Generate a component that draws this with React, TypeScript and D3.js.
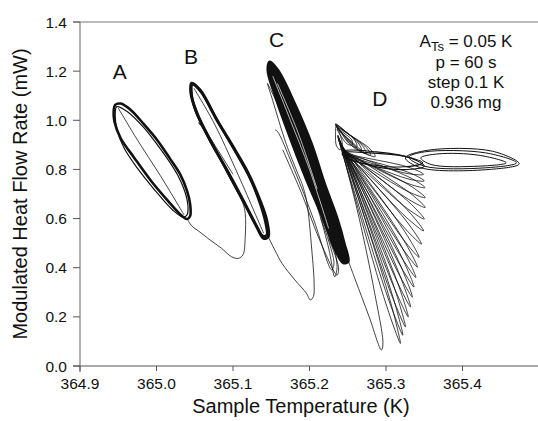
import React from "react";
import * as d3 from "d3";

type P = [number, number];

const W = 538;
const H = 421;

const xTicks = [364.9, 365.0, 365.1, 365.2, 365.3, 365.4];
const yTicks = [0, 0.2, 0.4, 0.6, 0.8, 1.0, 1.2, 1.4];

const notes = ["= 0.05 K", "p = 60 s", "step 0.1 K", "0.936 mg"];

const stepLabels: { name: string; t: number; hf: number }[] = [
  { name: "A", t: 364.952, hf: 1.166 },
  { name: "B", t: 365.045, hf: 1.229 },
  { name: "C", t: 365.157, hf: 1.298 },
  { name: "D", t: 365.292, hf: 1.058 },
];

// step A
const loopA1: P[] = [
  [364.946, 1.063], [364.953, 1.068], [364.966, 1.043], [364.984, 0.982], [365.002, 0.915],
  [365.017, 0.847], [365.031, 0.78], [365.04, 0.712], [365.044, 0.658], [365.044, 0.611],
  [365.04, 0.598], [365.033, 0.611], [365.015, 0.672], [364.993, 0.753], [364.971, 0.847],
  [364.953, 0.928], [364.945, 0.995], [364.944, 1.036],
];
const loopA2: P[] = [
  [364.948, 1.055], [364.962, 1.035], [364.982, 0.975], [365.0, 0.905], [365.015, 0.84],
  [365.028, 0.775], [365.037, 0.71], [365.041, 0.655], [365.04, 0.615], [365.035, 0.606],
  [365.022, 0.632], [364.998, 0.715], [364.975, 0.805], [364.958, 0.885], [364.949, 0.955],
  [364.946, 1.02],
];
const innerA: P[] = [[364.95, 1.05], [364.975, 0.92], [365.005, 0.775], [365.036, 0.615]];

const tailAB: P[] = [
  [365.04, 0.6], [365.046, 0.57], [365.053, 0.554], [365.07, 0.513], [365.085, 0.479],
  [365.098, 0.445], [365.107, 0.438], [365.113, 0.452], [365.116, 0.526], [365.116, 0.621],
  [365.113, 0.662], [365.1, 0.74], [365.078, 0.87], [365.06, 0.97], [365.055, 0.99],
  [365.06, 0.975], [365.08, 0.88], [365.1, 0.78],
];

// step B
const loopB1: P[] = [
  [365.046, 1.151], [365.057, 1.123], [365.079, 1.001], [365.1, 0.893], [365.12, 0.784],
  [365.135, 0.676], [365.144, 0.594], [365.146, 0.526], [365.14, 0.52], [365.131, 0.567],
  [365.113, 0.676], [365.092, 0.798], [365.07, 0.92], [365.053, 1.028], [365.045, 1.11],
];
const loopB2: P[] = [
  [365.047, 1.145], [365.059, 1.112], [365.081, 0.99], [365.102, 0.878], [365.122, 0.765],
  [365.136, 0.655], [365.143, 0.575], [365.144, 0.533], [365.139, 0.53], [365.129, 0.58],
  [365.11, 0.69], [365.089, 0.812], [365.067, 0.935], [365.051, 1.04], [365.046, 1.105],
];
const innerB: P[] = [[365.049, 1.13], [365.075, 0.99], [365.105, 0.79], [365.14, 0.54]];

const tailBC: P[] = [
  [365.146, 0.526], [365.155, 0.47], [365.164, 0.418], [365.181, 0.35], [365.196, 0.296],
  [365.201, 0.269], [365.205, 0.282], [365.206, 0.337], [365.203, 0.472], [365.196, 0.676],
  [365.19, 0.744],
];

// step C
const loopC: P[] = [
  [365.148, 1.239], [365.159, 1.205], [365.181, 1.069], [365.203, 0.906], [365.22, 0.744],
  [365.236, 0.608], [365.246, 0.499], [365.251, 0.424], [365.244, 0.418], [365.233, 0.472],
  [365.216, 0.608], [365.194, 0.77], [365.172, 0.947], [365.155, 1.096], [365.145, 1.205],
];
const streaksC: P[][] = [
  [[365.152, 1.18], [365.175, 1.0], [365.2, 0.8], [365.225, 0.56]],
  [[365.158, 1.15], [365.185, 0.95], [365.21, 0.72]],
];
const spikesC: P[][] = [
  [[365.19, 0.744], [365.17, 0.9], [365.15, 1.1], [365.145, 1.15], [365.15, 1.12], [365.175, 0.95],
    [365.205, 0.7], [365.225, 0.48], [365.233, 0.363], [365.236, 0.4], [365.23, 0.52]],
  [[365.155, 0.961], [365.158, 0.955], [365.18, 0.8], [365.205, 0.6], [365.229, 0.391],
    [365.232, 0.42], [365.215, 0.6]],
  [[365.165, 0.88], [365.19, 0.7], [365.215, 0.5], [365.236, 0.37], [365.238, 0.4], [365.225, 0.52]],
];

const tailCD: P[] = [
  [365.248, 0.45], [365.26, 0.35], [365.278, 0.2], [365.294, 0.065], [365.296, 0.09],
  [365.285, 0.3], [365.265, 0.6], [365.245, 0.85],
];

// step D: fan loops [pivot T, pivot HF, tip T, tip HF]
const fanLoops: [number, number, number, number][] = [
  [365.237, 0.94, 365.3188, 0.092],
  [365.237, 0.935, 365.322, 0.125],
  [365.238, 0.93, 365.3254, 0.159],
  [365.238, 0.925, 365.329, 0.2],
  [365.239, 0.92, 365.3321, 0.24],
  [365.239, 0.915, 365.3345, 0.28],
  [365.24, 0.91, 365.3366, 0.321],
  [365.24, 0.905, 365.339, 0.36],
  [365.24, 0.9, 365.3411, 0.402],
  [365.241, 0.9, 365.3433, 0.442],
  [365.242, 0.89, 365.3464, 0.496],
  [365.242, 0.89, 365.3491, 0.55],
  [365.243, 0.88, 365.35, 0.598],
  [365.244, 0.88, 365.3513, 0.645],
  [365.245, 0.87, 365.3513, 0.685],
  [365.246, 0.87, 365.3509, 0.726],
  [365.247, 0.86, 365.35, 0.753],
  [365.248, 0.86, 365.3491, 0.78],
];
const upperLoops: [number, number, number, number][] = [
  [365.234, 0.985, 365.262, 0.89],
  [365.234, 0.985, 365.268, 0.875],
  [365.235, 0.98, 365.274, 0.865],
  [365.235, 0.975, 365.28, 0.858],
  [365.236, 0.97, 365.286, 0.852],
  [365.236, 0.965, 365.256, 0.9],
  [365.235, 0.98, 365.24, 0.88],
];
const midLoops: P[][] = [
  [[365.2429, 0.8673], [365.2786, 0.8673], [365.3232, 0.8538], [365.3478, 0.8268],
    [365.3232, 0.8106], [365.2786, 0.82], [365.2473, 0.847]],
  [[365.2451, 0.874], [365.2875, 0.8713], [365.3321, 0.847], [365.35, 0.8133],
    [365.3277, 0.7998], [365.283, 0.8133], [365.2473, 0.8538]],
];
const rightLoops: P[][] = [
  [[365.3299, 0.8497], [365.35, 0.8713], [365.4304, 0.8673], [365.4705, 0.8268],
    [365.4304, 0.8066], [365.35, 0.8133]],
  [[365.3254, 0.847], [365.3545, 0.878], [365.4393, 0.874], [365.4741, 0.8228],
    [365.4348, 0.7998], [365.3455, 0.8066]],
  [[365.3455, 0.847], [365.3679, 0.8632], [365.4214, 0.8578], [365.4571, 0.8268],
    [365.4214, 0.8133], [365.3589, 0.82]],
];

const x = d3.scaleLinear().domain([364.9, 365.5]).range([80, 539]);
const y = d3.scaleLinear().domain([0, 1.4]).range([366, 22]);

const closed = d3
  .line<P>()
  .x((d) => x(d[0]))
  .y((d) => y(d[1]))
  .curve(d3.curveCatmullRomClosed.alpha(0.5));
const open = d3
  .line<P>()
  .x((d) => x(d[0]))
  .y((d) => y(d[1]))
  .curve(d3.curveCatmullRom.alpha(0.5));
const pix = d3.line<P>().curve(d3.curveCatmullRomClosed.alpha(0.5));

// narrow loop from a pivot to a tip, in pixels
function lens(t0: number, h0: number, t1: number, h1: number, w: number) {
  const ax = x(t0), ay = y(h0), bx = x(t1), by = y(h1);
  const dx = bx - ax, dy = by - ay;
  const L = Math.hypot(dx, dy) || 1;
  const nx = -dy / L, ny = dx / L;
  const pts: P[] = [
    [ax, ay],
    [ax + 0.35 * dx + nx * w * 0.7, ay + 0.35 * dy + ny * w * 0.7],
    [ax + 0.82 * dx + nx * w, ay + 0.82 * dy + ny * w],
    [bx, by],
    [ax + 0.82 * dx - nx * w, ay + 0.82 * dy - ny * w],
    [ax + 0.35 * dx - nx * w * 0.7, ay + 0.35 * dy - ny * w * 0.7],
  ];
  return pix(pts) || "";
}

const font = "'Liberation Sans', Arial, Helvetica, sans-serif";

export default function App() {
  const ink = "#111";
  return (
    <svg
      width={W}
      height={H}
      style={{ position: "absolute", left: 0, top: 0, background: "#fff" }}
      fontFamily={font}
    >
      {/* frame */}
      <line x1={73} x2={539} y1={y(1.4)} y2={y(1.4)} stroke="#777" strokeWidth={1} />
      <line x1={x(364.9)} x2={x(364.9)} y1={y(1.4)} y2={y(0) + 6} stroke="#666" strokeWidth={1} />
      <line x1={73} x2={539} y1={y(0)} y2={y(0)} stroke="#555" strokeWidth={1} />
      {yTicks.map((t) => (
        <g key={"y" + t}>
          <line x1={73} x2={x(364.9)} y1={y(t)} y2={y(t)} stroke="#555" />
          <text x={67} y={y(t) + 5.5} textAnchor="end" fontSize={15.5} fill="#111">
            {t.toFixed(1)}
          </text>
        </g>
      ))}
      {xTicks.map((t) => (
        <g key={"x" + t}>
          <line x1={x(t)} x2={x(t)} y1={y(0)} y2={y(0) + 5} stroke="#555" />
          <text x={x(t)} y={389} textAnchor="middle" fontSize={15.5} fill="#111">
            {t.toFixed(1)}
          </text>
        </g>
      ))}
      <text x={301} y={413} textAnchor="middle" fontSize={20} fill="#111">
        Sample Temperature (K)
      </text>
      <text transform="translate(27,194) rotate(-90)" textAnchor="middle" fontSize={20} fill="#111">
        Modulated Heat Flow Rate (mW)
      </text>

      {/* annotation */}
      <text x={466} y={47} textAnchor="middle" fontSize={17} fill="#111">
        A<tspan fontSize={13} dy={4}>Ts</tspan>
        <tspan dy={-4}> {notes[0]}</tspan>
      </text>
      {notes.slice(1).map((n, i) => (
        <text key={n} x={466} y={68 + i * 20} textAnchor="middle" fontSize={17} fill="#111">
          {n}
        </text>
      ))}
      {stepLabels.map((l) => (
        <text key={l.name} x={x(l.t)} y={y(l.hf)} textAnchor="middle" fontSize={21} fill="#111">
          {l.name}
        </text>
      ))}

      <g fill="none" stroke={ink} strokeLinejoin="round">
        {/* A */}
        <path d={closed(loopA1) || ""} strokeWidth={2.6} />
        <path d={closed(loopA2) || ""} strokeWidth={1.2} />
        <path d={open(innerA) || ""} strokeWidth={0.8} />
        <path d={open(tailAB) || ""} strokeWidth={0.8} />
        {/* B */}
        <path d={closed(loopB1) || ""} strokeWidth={3} />
        <path d={closed(loopB2) || ""} strokeWidth={2.4} />
        <path d={open(innerB) || ""} strokeWidth={0.8} />
        <path d={open(tailBC) || ""} strokeWidth={0.8} />
        {/* C */}
        <path d={closed(loopC) || ""} strokeWidth={2} fill={ink} />
        {streaksC.map((s, i) => (
          <path key={"s" + i} d={open(s) || ""} stroke="#fff" strokeWidth={0.7} />
        ))}
        {spikesC.map((s, i) => (
          <path key={"k" + i} d={open(s) || ""} strokeWidth={0.8} />
        ))}
        <path d={open(tailCD) || ""} strokeWidth={0.8} />
        {/* D */}
        {fanLoops.map((f, i) => (
          <path key={"f" + i} d={lens(f[0], f[1], f[2], f[3], 2.4 + i * 0.04)} strokeWidth={0.8} />
        ))}
        {upperLoops.map((f, i) => (
          <path key={"u" + i} d={lens(f[0], f[1], f[2], f[3], 3)} strokeWidth={0.8} />
        ))}
        {midLoops.map((m, i) => (
          <path key={"m" + i} d={closed(m) || ""} strokeWidth={1.1} />
        ))}
        {rightLoops.map((m, i) => (
          <path key={"r" + i} d={closed(m) || ""} strokeWidth={1} />
        ))}
      </g>
    </svg>
  );
}
